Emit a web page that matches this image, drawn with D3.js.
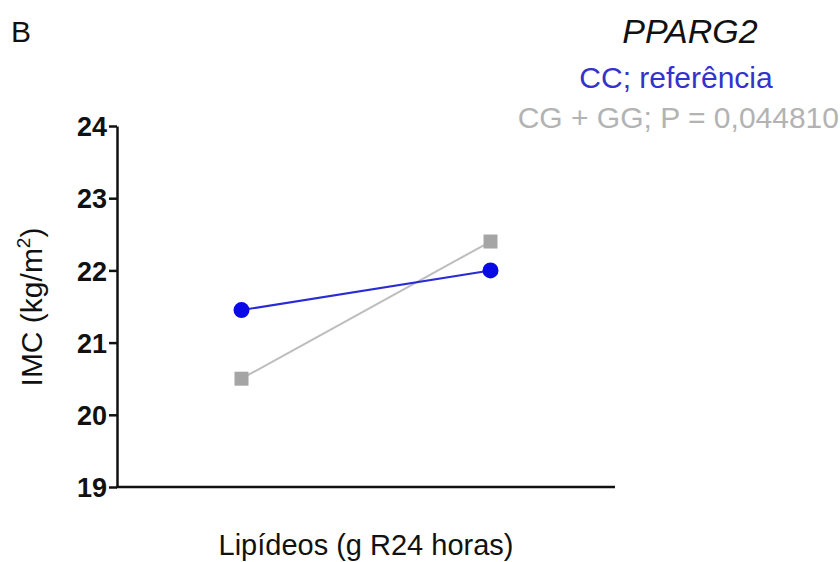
<!DOCTYPE html>
<html>
<head>
<meta charset="utf-8">
<script src="https://cdn.jsdelivr.net/npm/d3@7"></script>
<style>
  body { margin: 0; background: #fff; }
  text { font-family: Arial, "Liberation Sans", sans-serif; }
</style>
</head>
<body>
<div id="chart"></div>
<script>
// data
const groups = ["baixo", "alto"]
const ccValues = [21.45, 22.0]
const cgggValues = [20.5, 22.4]
const yTicks = [19, 20, 21, 22, 23, 24]

const seriesNames = ["CC; referência", "CG + GG; P = 0,044810"]

// dimensions
let dimensions = {
  width: 840,
  height: 562,
  margin: { top: 126, right: 225, bottom: 75, left: 117 },
}
dimensions.boundedWidth = dimensions.width - dimensions.margin.left - dimensions.margin.right
dimensions.boundedHeight = dimensions.height - dimensions.margin.top - dimensions.margin.bottom

const svg = d3.select("#chart")
  .append("svg")
    .attr("width", dimensions.width)
    .attr("height", dimensions.height)

const bounds = svg.append("g")
    .attr("transform", `translate(${dimensions.margin.left},${dimensions.margin.top})`)

// scales
const xScale = d3.scalePoint()
  .domain(groups)
  .range([0, dimensions.boundedWidth])
  .padding(0.5)

const yScale = d3.scaleLinear()
  .domain([19, 24])
  .range([dimensions.boundedHeight, 0])

// axes
const yAxis = bounds.append("g")
  .call(d3.axisLeft(yScale)
    .tickValues(yTicks)
    .tickFormat(d3.format("d"))
    .tickSize(8)
    .tickPadding(2)
    .tickSizeOuter(0))
yAxis.select(".domain").attr("stroke", "#111").attr("stroke-width", 2.5)
yAxis.selectAll(".tick line").attr("stroke", "#111").attr("stroke-width", 2.5)
yAxis.selectAll(".tick text")
  .attr("font-size", 27)
  .attr("font-weight", "bold")
  .attr("fill", "#111")
  .attr("dy", "0.36em")

bounds.append("line")
  .attr("x1", -1)
  .attr("x2", dimensions.boundedWidth)
  .attr("y1", dimensions.boundedHeight)
  .attr("y2", dimensions.boundedHeight)
  .attr("stroke", "#111")
  .attr("stroke-width", 2.5)

// lines
const line = d3.line()
  .x((d, i) => xScale(groups[i]))
  .y(d => yScale(d))

bounds.append("path")
  .datum(cgggValues)
  .attr("d", line)
  .attr("fill", "none")
  .attr("stroke", "#bdbdbd")
  .attr("stroke-width", 2)

bounds.append("path")
  .datum(ccValues)
  .attr("d", line)
  .attr("fill", "none")
  .attr("stroke", "#2b2bd6")
  .attr("stroke-width", 2)

const sq = 14
bounds.selectAll(".sq")
  .data(cgggValues)
  .join("rect")
    .attr("x", (d, i) => xScale(groups[i]) - sq / 2)
    .attr("y", d => yScale(d) - sq / 2)
    .attr("width", sq)
    .attr("height", sq)
    .attr("fill", "#a5a5a5")

bounds.selectAll(".dot")
  .data(ccValues)
  .join("circle")
    .attr("cx", (d, i) => xScale(groups[i]))
    .attr("cy", d => yScale(d))
    .attr("r", 8)
    .attr("fill", "#0a0ae6")

// labels
svg.append("text")
  .attr("x", 11)
  .attr("y", 42)
  .attr("font-size", 30)
  .attr("fill", "#111")
  .text("B")

svg.append("text")
  .attr("x", 690)
  .attr("y", 43)
  .attr("text-anchor", "middle")
  .attr("font-size", 34)
  .attr("font-style", "italic")
  .attr("fill", "#111")
  .text("PPARG2")

svg.append("text")
  .attr("x", 676)
  .attr("y", 88)
  .attr("text-anchor", "middle")
  .attr("font-size", 30)
  .attr("fill", "#3333cc")
  .text(seriesNames[0])

svg.append("text")
  .attr("x", 839)
  .attr("y", 128)
  .attr("text-anchor", "end")
  .attr("font-size", 30)
  .attr("fill", "#b3b3b3")
  .text(seriesNames[1])

svg.append("text")
  .attr("x", dimensions.margin.left + dimensions.boundedWidth / 2)
  .attr("y", 555)
  .attr("text-anchor", "middle")
  .attr("font-size", 29)
  .attr("fill", "#111")
  .text("Lipídeos (g R24 horas)")

const yLabel = svg.append("text")
  .attr("transform", `translate(42, 307) rotate(-90)`)
  .attr("text-anchor", "middle")
  .attr("font-size", 30)
  .attr("fill", "#111")
yLabel.append("tspan").text("IMC (kg/m")
yLabel.append("tspan").attr("font-size", 19).attr("dy", -12).text("2")
yLabel.append("tspan").attr("dy", 12).text(")")
</script>
</body>
</html>
